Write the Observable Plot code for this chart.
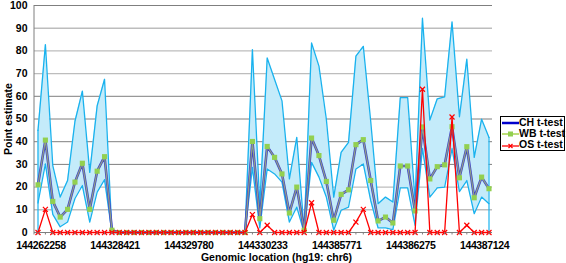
<!DOCTYPE html>
<html><head><meta charset="utf-8">
<script src="https://cdn.jsdelivr.net/npm/d3@7"></script>
<script src="https://cdn.jsdelivr.net/npm/@observablehq/plot@0.6"></script>
<style>
body{margin:0;background:#fff;font-family:"Liberation Sans",Arial,sans-serif;}
#wrap{position:relative;width:566px;height:263px;}
#legend{position:absolute;left:500px;top:116px;width:65px;height:35px;border:1px solid #000;background:#fff;font-weight:bold;font-size:10.5px;box-sizing:border-box;}
#legend .row{position:absolute;left:1px;height:11px;line-height:11px;white-space:nowrap;}
#legend svg{vertical-align:middle;margin-right:0px;}
</style></head>
<body><div id="wrap"><div id="chart"></div><div id="legend"></div></div>
<script>
const upper = [45,82.8,29.5,15.6,22.9,49,62.3,26.5,55.8,67.5,0,0,0,0,0,0,0,0,0,0,0,0,0,0,0,0,0,0,0,80.6,12,76.9,67.4,58,23.6,41.9,1,83.5,73.3,49.9,15.6,35.3,39.7,77.7,82,49,12.7,15.6,13.4,59.4,59.4,14,94.4,49.5,58.9,59.7,92.8,51,76.4,33.1,49.9,41.9];
const lower = [13,30.2,8,2.5,4.6,15,20.7,4.6,17.8,23.3,0,0,0,0,0,0,0,0,0,0,0,0,0,0,0,0,0,0,0,28.7,2,28,25.8,22.2,4.6,11.2,0,30.9,24.4,15.6,1,9.8,11.2,28,30.2,14.1,2,2,1.3,19.7,19.7,3.2,37,15.6,19.7,20,37,18,22.9,8.3,15.6,12.7];
const chT = [21,40.7,13.7,6.8,10.2,22.2,30.5,10.2,27,33.4,1,0,0,0,0,0,0,0,0,0,0,0,0,0,0,0,0,0,0,40.1,6.1,37.9,33.1,25.8,8.6,20,1,41.6,33.9,22.5,5.4,16.8,18.8,38.7,40.9,22.9,5.1,6.8,4.2,29.3,29.3,9.5,46.5,23.6,29,29.8,46.6,24.1,37.8,15.3,24.4,19.3];
const wbT = [21,40.7,13.7,6.8,10.2,22.2,30.5,10.2,27,33.4,1,0,0,0,0,0,0,0,0,0,0,0,0,0,0,0,0,0,0,40.1,6.1,37.9,33.1,25.8,8.6,20,1,41.6,33.9,22.5,5.4,16.8,18.8,38.7,40.9,22.9,5.1,6.8,4.2,29.3,29.3,9.5,46.5,23.6,29,29.8,46.6,24.1,37.8,15.3,24.4,19.3];
const osT = [0,10.2,0,0,0,0,0,0,0,0,0,0,0,0,0,0,0,0,0,0,0,0,0,0,0,0,0,0,0,7.9,0,3.2,0,0,0,0,0,13.1,0,0,0,0,0,4.6,10.2,0,0,0,0,0,0,0,63.1,0,0,0,50.9,0,3.2,0,0,0];
const tickIdx = [0,10,20,30,40,50,60];
const tickLabels = ["144262258","144328421","144329780","144330233","144385771","144386275","144387124"];
const yTicks = [0,10,20,30,40,50,60,70,80,90,100];
const gridLight = [10,20,70,80,90];
const gridDark = [0,30,40,50,60,100];

const idx = d3.range(upper.length);
const data = idx.map(i => ({i, upper: upper[i], lower: lower[i], ch: chT[i], wb: wbT[i], os: osT[i]}));
const ends = [data[0], data[data.length-1]];

const mL = 34, mR = 74, mT = 5, mB = 31;
const chart = Plot.plot({
  width: 566, height: 263, marginLeft: mL, marginRight: mR, marginTop: mT, marginBottom: mB,
  x: {domain: [0, idx.length-1], insetLeft: 3.5, insetRight: 3.5},
  y: {domain: [0, 100]},
  style: {fontFamily: "Liberation Sans, Arial, sans-serif", fontWeight: "bold", fontSize: "10.5px", color: "#000", background: "#fff"},
  marks: [
    Plot.ruleY(gridLight, {stroke: "#bdbdbd", strokeWidth: 1.4}),
    Plot.ruleY(gridDark, {stroke: "#7f7f7f", strokeWidth: 1}),
    Plot.areaY(data, {x: "i", y1: "lower", y2: "upper", fill: "#c4ebfa"}),
    Plot.ruleX(ends, {x: "i", y1: 0, y2: "upper", stroke: "#19b2ee", strokeWidth: 1.2}),
    Plot.line(data, {x: "i", y: "upper", stroke: "#19b2ee", strokeWidth: 1.3}),
    Plot.line(data, {x: "i", y: "lower", stroke: "#19b2ee", strokeWidth: 1.3}),
    Plot.line(data, {x: "i", y: "ch", stroke: "#4444c4", strokeWidth: 2.6}),
    Plot.line(data, {x: "i", y: "wb", stroke: "#a8c070", strokeWidth: 1.2, strokeOpacity: 0.75}),
    Plot.dot(data, {x: "i", y: "wb", symbol: "square", fill: "#92d050", r: 2.9}),
    Plot.line(data, {x: "i", y: "os", stroke: "#ff0000", strokeWidth: 1.3}),
    Plot.dot(data, {x: "i", y: "os", symbol: "times", stroke: "#ff0000", r: 2.4, strokeWidth: 1.2}),
    Plot.axisY({ticks: yTicks, tickSize: 0, tickPadding: 7, label: null}),
    Plot.axisX({ticks: idx, tickSize: 2.5, tickFormat: () => "", stroke: "#7f7f7f", label: null}),
    Plot.axisX({ticks: tickIdx, tickSize: 0, tickPadding: 9, dx: 3, tickFormat: (d) => tickLabels[tickIdx.indexOf(d)], label: null, className: "xlab"}),
    Plot.text(["Genomic location (hg19: chr6)"], {frameAnchor: "bottom", dx: 13, dy: 25.5, text: d => d, fontSize: 10.5, fontWeight: "bold", lineAnchor: "middle"}),
    Plot.text(["Point estimate"], {frameAnchor: "left", dx: -26, rotate: -90, textAnchor: "middle", text: d => d, fontSize: 10.5, fontWeight: "bold"})
  ]
});
d3.select(chart).selectAll(".xlab text").style("letter-spacing", "-0.35px");
// y axis line along the left edge of the frame
d3.select(chart).append("line")
  .attr("x1", mL).attr("x2", mL).attr("y1", mT).attr("y2", 263 - mB + 2.5)
  .attr("stroke", "#7f7f7f").attr("stroke-width", 1);
document.getElementById("chart").appendChild(chart);

// legend
const series = [
  {name: "CH t-test", color: "#0000cc", sym: null},
  {name: "WB t-test", color: "#9acd32", sym: "square"},
  {name: "OS t-test", color: "#ff0000", sym: "times"}
];
const leg = d3.select("#legend");
series.forEach((s, k) => {
  const row = leg.append("div").attr("class", "row").style("top", (0 + k * 11.2) + "px");
  const sv = row.append("svg").attr("width", 17).attr("height", 8);
  sv.append("line").attr("x1", 0).attr("x2", 17).attr("y1", 4).attr("y2", 4).attr("stroke", s.color).attr("stroke-width", s.sym ? 1.3 : 2.5);
  if (s.sym === "square") sv.append("rect").attr("x", 6).attr("y", 1.5).attr("width", 5).attr("height", 5).attr("fill", "#92d050");
  if (s.sym === "times") sv.append("path").attr("d", "M6.5,2L10.5,6M10.5,2L6.5,6").attr("stroke", s.color).attr("stroke-width", 1.2);
  row.append("span").text(s.name);
});
</script></body></html>
